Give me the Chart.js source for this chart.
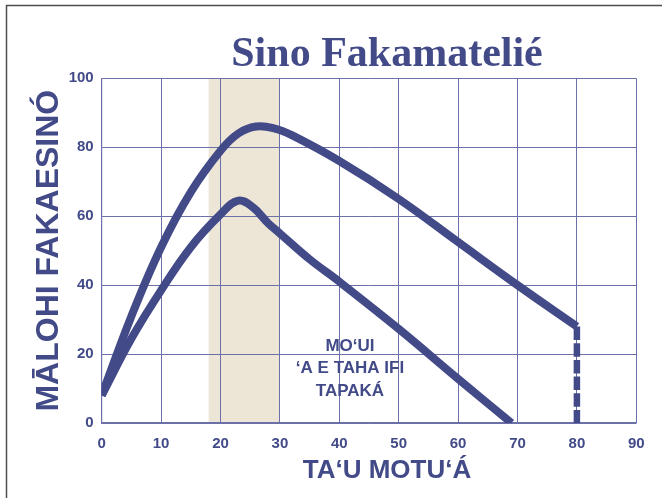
<!DOCTYPE html>
<html>
<head>
<meta charset="utf-8">
<script src="https://cdn.jsdelivr.net/npm/chart.js@4/dist/chart.umd.min.js"></script>
<style>
  html, body { margin: 0; padding: 0; background: #ffffff; }
  #wrap { width: 662px; height: 498px; }
</style>
</head>
<body>
<div id="wrap"><canvas id="c" width="662" height="498"></canvas></div>
<script>
// ---- Data ----
const titleText = "Sino Fakamatelié";
const xAxisTitle = "TA‘U MOTU‘Á";
const yAxisTitle = "MĀLOHI FAKAESINÓ";
const annotationLines = ["MO‘UI", "‘A E TAHA IFI", "TAPAKÁ"];
const annotationAt = [41.8, 22.3];   // [x value, y value] of first line centre

const xTicks = [0, 10, 20, 30, 40, 50, 60, 70, 80, 90];
const yTicks = [0, 20, 40, 60, 80, 100];

const bandRange = [18, 30];           // shaded age band

const upperX = [0, 5, 10, 15, 20, 23, 26, 29, 32, 40, 50, 60, 70, 80];
const upperY = [8, 31, 51, 67, 79, 84, 86, 85.5, 83.5, 76, 65, 52.5, 40, 28];

const lowerX = [0, 5, 10, 15, 20, 23, 25.5, 28, 30, 35, 40, 50, 60, 69];
const lowerY = [8, 24.5, 38.5, 51, 60.5, 64.5, 62.5, 58, 55, 47.5, 41, 27.3, 12.8, 0];

const dropX = [80, 80];
const dropY = [28, 0];

// ---- Styling ----
const INK = '#424a88';
const GRID = '#6b70a8';
const BAND = '#ede6d7';

const toPts = (xs, ys) => xs.map((x, i) => ({ x: x, y: ys[i] }));

const decorPlugin = {
  id: 'decor',
  beforeDraw(chart) {
    const { ctx, chartArea: a, scales: { x } } = chart;
    ctx.save();
    ctx.fillStyle = BAND;
    const x0 = x.getPixelForValue(bandRange[0]);
    const x1 = x.getPixelForValue(bandRange[1]);
    ctx.fillRect(x0, a.top, x1 - x0, a.bottom - a.top);
    ctx.restore();
  },
  afterDraw(chart) {
    const { ctx, scales: { x, y } } = chart;
    ctx.save();
    // outer frame (left + top edges visible)
    ctx.strokeStyle = '#4d4d4d';
    ctx.lineWidth = 1.5;
    ctx.beginPath();
    ctx.moveTo(6.5, 498);
    ctx.lineTo(6.5, 5.5);
    ctx.lineTo(662, 5.5);
    ctx.stroke();

    // main title
    ctx.fillStyle = INK;
    ctx.textAlign = 'center';
    ctx.textBaseline = 'alphabetic';
    ctx.font = 'bold 42px "Liberation Serif"';
    ctx.fillText(titleText, 387, 66);

    // x axis title
    ctx.font = 'bold 26px "Liberation Sans"';
    ctx.textBaseline = 'middle';
    ctx.fillText(xAxisTitle, 387, 471);

    // annotation
    ctx.font = 'bold 17px "Liberation Sans"';
    const ax = x.getPixelForValue(annotationAt[0]);
    const ay = y.getPixelForValue(annotationAt[1]);
    annotationLines.forEach((t, i) => ctx.fillText(t, ax, ay + i * 22.5));
    ctx.restore();
  }
};

new Chart(document.getElementById('c'), {
  type: 'line',
  data: {
    datasets: [
      {
        data: toPts(upperX, upperY),
        borderColor: INK, borderWidth: 8, pointRadius: 0,
        tension: 0.4, borderCapStyle: 'butt', clip: 0
      },
      {
        data: toPts(lowerX, lowerY),
        borderColor: INK, borderWidth: 8, pointRadius: 0,
        tension: 0.4, borderCapStyle: 'butt', clip: 0
      },
      {
        data: toPts(dropX, dropY),
        borderColor: INK, borderWidth: 6.5, pointRadius: 0,
        borderDash: [13.5, 3.2], borderCapStyle: 'butt', clip: 0
      }
    ]
  },
  options: {
    responsive: false,
    animation: false,
    events: [],
    layout: { padding: { left: 0, top: 78.3, right: 25.7, bottom: 0 } },
    plugins: { legend: { display: false }, title: { display: false }, tooltip: { enabled: false } },
    scales: {
      x: {
        type: 'linear', min: 0, max: 90,
        afterFit(s) { s.height = 75; },
        afterBuildTicks(s) { s.ticks = xTicks.map(v => ({ value: v })); },
        grid: { color: GRID, lineWidth: 1, drawTicks: false },
        border: { color: GRID, width: 1.2 },
        ticks: { color: INK, padding: 12, font: { family: '"Liberation Sans"', weight: 'bold', size: 15 } }
      },
      y: {
        type: 'linear', min: 0, max: 100,
        afterFit(s) { s.width = 101.7; },
        afterBuildTicks(s) { s.ticks = yTicks.map(v => ({ value: v })); },
        grid: { color: GRID, lineWidth: 1, drawTicks: false },
        border: { color: GRID, width: 1.2 },
        ticks: { color: INK, padding: 8, font: { family: '"Liberation Sans"', weight: 'bold', size: 15 } },
        title: {
          display: true, text: yAxisTitle, color: INK,
          font: { family: '"Liberation Sans"', weight: 'bold', size: 32, lineHeight: 1.2 },
          padding: { top: 30, bottom: 0 }
        }
      }
    }
  },
  plugins: [decorPlugin]
});
</script>
</body>
</html>
